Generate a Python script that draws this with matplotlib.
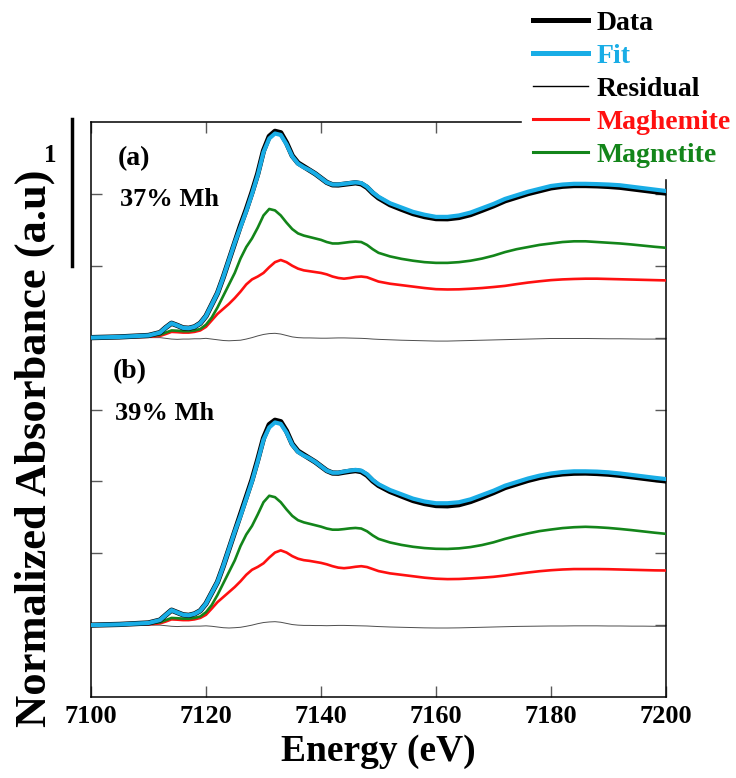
import numpy as np
import matplotlib
matplotlib.use("Agg")
from matplotlib import pyplot as plt
from matplotlib.lines import Line2D

plt.rcParams['font.family'] = ['Liberation Serif', 'DejaVu Serif']
plt.rcParams['font.weight'] = 'bold'

# energy grid (eV)
energy = [7100, 7105, 7110, 7112, 7113, 7114, 7115, 7116, 7117, 7118, 7119, 7120,
          7121, 7122, 7123, 7124, 7125, 7126, 7127, 7128, 7129, 7130, 7131, 7132,
          7133, 7134, 7135, 7136, 7137, 7138, 7139, 7140, 7141, 7142, 7143, 7144,
          7145, 7146, 7147, 7148, 7149, 7150, 7152, 7154, 7156, 7158, 7160, 7162,
          7164, 7166, 7168, 7170, 7172, 7174, 7176, 7178, 7180, 7182, 7184, 7186,
          7188, 7190, 7192, 7194, 7196, 7198, 7200]

# panel (a) - 37% Mh
data_a = [0.0, 0.005, 0.015, 0.035, 0.07, 0.10, 0.085, 0.068, 0.065, 0.075, 0.10, 0.15,
          0.23, 0.31, 0.42, 0.54, 0.66, 0.78, 0.89, 1.01, 1.14, 1.30, 1.40, 1.435,
          1.425, 1.355, 1.265, 1.215, 1.19, 1.165, 1.14, 1.11, 1.08, 1.063, 1.062, 1.067,
          1.072, 1.077, 1.07, 1.045, 1.005, 0.972, 0.925, 0.893, 0.863, 0.842, 0.828, 0.827,
          0.836, 0.856, 0.886, 0.917, 0.952, 0.977, 1.002, 1.022, 1.042, 1.053, 1.058, 1.058,
          1.056, 1.052, 1.046, 1.036, 1.026, 1.016, 1.006]
fit_a = [0.0, 0.005, 0.015, 0.035, 0.07, 0.10, 0.085, 0.068, 0.065, 0.075, 0.10, 0.15,
         0.23, 0.31, 0.42, 0.54, 0.66, 0.77, 0.88, 1.00, 1.13, 1.29, 1.385, 1.42,
         1.41, 1.345, 1.26, 1.21, 1.185, 1.165, 1.14, 1.11, 1.08, 1.065, 1.065, 1.07,
         1.075, 1.08, 1.075, 1.05, 1.01, 0.98, 0.935, 0.905, 0.875, 0.855, 0.84, 0.84,
         0.85, 0.87, 0.90, 0.93, 0.965, 0.99, 1.015, 1.035, 1.055, 1.065, 1.07, 1.07,
         1.068, 1.065, 1.06, 1.05, 1.04, 1.03, 1.02]
maghemite_a = [0.0, 0.002, 0.006, 0.012, 0.025, 0.04, 0.038, 0.035, 0.035, 0.04, 0.05, 0.075,
               0.12, 0.165, 0.20, 0.235, 0.275, 0.32, 0.37, 0.405, 0.425, 0.45, 0.49, 0.525,
               0.54, 0.525, 0.50, 0.48, 0.468, 0.462, 0.456, 0.45, 0.44, 0.425, 0.415, 0.41,
               0.415, 0.422, 0.425, 0.42, 0.405, 0.39, 0.375, 0.365, 0.355, 0.345, 0.337, 0.335,
               0.336, 0.34, 0.345, 0.352, 0.36, 0.372, 0.383, 0.392, 0.40, 0.405, 0.408, 0.41,
               0.41, 0.408, 0.406, 0.404, 0.402, 0.40, 0.398]
magnetite_a = [0.0, 0.003, 0.01, 0.02, 0.035, 0.05, 0.048, 0.045, 0.045, 0.05, 0.06, 0.09,
               0.14, 0.21, 0.29, 0.37, 0.45, 0.55, 0.63, 0.69, 0.765, 0.85, 0.895, 0.885,
               0.85, 0.80, 0.755, 0.725, 0.71, 0.70, 0.69, 0.68, 0.665, 0.655, 0.655, 0.66,
               0.665, 0.668, 0.665, 0.645, 0.615, 0.59, 0.565, 0.548, 0.535, 0.525, 0.52, 0.52,
               0.525, 0.535, 0.55, 0.57, 0.595, 0.615, 0.63, 0.645, 0.655, 0.665, 0.67, 0.67,
               0.665, 0.66, 0.655, 0.648, 0.64, 0.632, 0.625]
residual_a = [0.0, 0.0, 0.0, 0.0, -0.005, -0.01, -0.012, -0.01, -0.01, -0.008, -0.008, -0.005,
              -0.01, -0.015, -0.02, -0.022, -0.02, -0.018, -0.01, 0.0, 0.012, 0.022, 0.028, 0.03,
              0.025, 0.015, 0.005, 0.0, -0.002, -0.002, -0.003, -0.004, -0.004, -0.003, -0.002, -0.002,
              -0.003, -0.004, -0.005, -0.007, -0.01, -0.012, -0.015, -0.018, -0.02, -0.022, -0.024, -0.024,
              -0.022, -0.02, -0.018, -0.016, -0.014, -0.012, -0.01, -0.008, -0.006, -0.006, -0.006, -0.006,
              -0.007, -0.008, -0.008, -0.009, -0.01, -0.01, -0.01]

# panel (b) - 39% Mh
data_b = [0.0, 0.005, 0.015, 0.035, 0.07, 0.104, 0.088, 0.072, 0.068, 0.078, 0.10, 0.15,
          0.225, 0.30, 0.41, 0.53, 0.65, 0.77, 0.89, 1.01, 1.15, 1.30, 1.395, 1.425,
          1.415, 1.35, 1.26, 1.21, 1.185, 1.16, 1.135, 1.105, 1.075, 1.058, 1.057, 1.064,
          1.07, 1.075, 1.068, 1.043, 1.003, 0.972, 0.93, 0.898, 0.867, 0.846, 0.832, 0.83,
          0.838, 0.86, 0.89, 0.922, 0.957, 0.982, 1.007, 1.027, 1.042, 1.052, 1.057, 1.058,
          1.055, 1.05, 1.042, 1.032, 1.022, 1.012, 1.003]
fit_b = [0.0, 0.005, 0.015, 0.035, 0.07, 0.104, 0.088, 0.072, 0.068, 0.078, 0.10, 0.15,
         0.225, 0.30, 0.41, 0.53, 0.65, 0.76, 0.88, 1.00, 1.14, 1.29, 1.375, 1.41,
         1.40, 1.34, 1.255, 1.205, 1.18, 1.16, 1.135, 1.105, 1.075, 1.06, 1.06, 1.068,
         1.075, 1.08, 1.075, 1.05, 1.01, 0.98, 0.94, 0.91, 0.88, 0.86, 0.848, 0.848,
         0.855, 0.875, 0.905, 0.935, 0.97, 0.995, 1.02, 1.04, 1.055, 1.065, 1.07, 1.07,
         1.068, 1.063, 1.055, 1.045, 1.035, 1.025, 1.016]
maghemite_b = [0.0, 0.002, 0.006, 0.012, 0.025, 0.04, 0.038, 0.035, 0.035, 0.04, 0.05, 0.072,
               0.115, 0.16, 0.195, 0.23, 0.265, 0.305, 0.35, 0.385, 0.405, 0.43, 0.47, 0.505,
               0.52, 0.505, 0.48, 0.462, 0.452, 0.447, 0.44, 0.433, 0.423, 0.41, 0.4, 0.396,
               0.4, 0.406, 0.41, 0.404, 0.39, 0.376, 0.36, 0.35, 0.34, 0.33, 0.323, 0.32,
               0.321, 0.325, 0.33, 0.336, 0.345, 0.356, 0.366, 0.375, 0.382, 0.387, 0.39, 0.39,
               0.39, 0.389, 0.387, 0.385, 0.383, 0.381, 0.38]
magnetite_b = [0.0, 0.003, 0.01, 0.02, 0.035, 0.05, 0.048, 0.045, 0.045, 0.05, 0.06, 0.09,
               0.14, 0.21, 0.29, 0.37, 0.45, 0.55, 0.63, 0.69, 0.77, 0.855, 0.9, 0.89,
               0.855, 0.805, 0.76, 0.73, 0.715, 0.705, 0.695, 0.685, 0.672, 0.664, 0.664, 0.668,
               0.673, 0.676, 0.672, 0.653, 0.624, 0.6, 0.575, 0.558, 0.545, 0.536, 0.531, 0.53,
               0.534, 0.543, 0.557, 0.576, 0.6, 0.62, 0.638, 0.654, 0.665, 0.675, 0.681, 0.684,
               0.681, 0.676, 0.669, 0.661, 0.652, 0.643, 0.635]
residual_b = [0.0, 0.0, 0.0, 0.0, -0.004, -0.008, -0.01, -0.008, -0.008, -0.007, -0.007, -0.005,
              -0.008, -0.013, -0.018, -0.02, -0.018, -0.015, -0.008, 0.0, 0.01, 0.018, 0.022, 0.024,
              0.02, 0.012, 0.004, 0.0, -0.002, -0.002, -0.003, -0.003, -0.004, -0.003, -0.002, -0.002,
              -0.003, -0.004, -0.005, -0.006, -0.008, -0.01, -0.013, -0.015, -0.017, -0.019, -0.02, -0.02,
              -0.019, -0.017, -0.015, -0.013, -0.011, -0.009, -0.008, -0.007, -0.006, -0.006, -0.005, -0.005,
              -0.005, -0.006, -0.006, -0.007, -0.007, -0.008, -0.008]

panels = [("(a)", "37% Mh", 2.0, data_a, fit_a, residual_a, maghemite_a, magnetite_a),
          ("(b)", "39% Mh", 0.0, data_b, fit_b, residual_b, maghemite_b, magnetite_b)]

BLUE = '#19ade6'
RED = '#ff1010'
GREEN = '#13851a'
SERIF = ['Liberation Serif', 'DejaVu Serif']

fig = plt.figure(figsize=(7.36, 7.78), dpi=100)
ax = fig.add_axes([91/736, 1 - 697/778, 575/736, 575/778])

E = np.array(energy)
for tag, pct, off, d, f, r, mh, mt in panels:
    ax.plot(E, np.array(r) + off, color='0.3', lw=0.7, zorder=2)
    ax.plot(E, np.array(mh) + off, color=RED, lw=1.9, zorder=3, solid_joinstyle='round')
    ax.plot(E, np.array(mt) + off, color=GREEN, lw=1.9, zorder=3, solid_joinstyle='round')
    ax.plot(E, np.array(d) + off, color='black', lw=3.8, zorder=4, solid_joinstyle='round')
    ax.plot(E, np.array(f) + off, color=BLUE, lw=3.0, zorder=5, solid_joinstyle='round')

ax.text(7104.7, 3.245, "(a)", fontsize=20, fontweight='bold', va='center')
ax.text(7105.0, 2.96, "37% Mh", fontsize=19, fontweight='bold', va='center')
ax.text(7103.8, 1.766, "(b)", fontsize=20, fontweight='bold', va='center')
ax.text(7104.2, 1.475, "39% Mh", fontsize=19, fontweight='bold', va='center')

ax.set_xlim(7100, 7200)
ax.set_ylim(-0.5, 3.5)
ax.set_xticks(np.arange(7100, 7201, 20))
ax.set_yticks(np.arange(0, 3.01, 0.5))
ax.set_yticklabels([])
ax.tick_params(direction='in', top=True, right=True, length=8, width=1.0,
               color='0.35', labelsize=19, pad=6)
for lab in ax.get_xticklabels():
    lab.set_fontweight('bold')
    lab.set_fontfamily(SERIF)
for sp in ax.spines.values():
    sp.set_linewidth(1.1)

ax.set_xlabel("Energy (eV)", fontsize=27, fontweight='bold', labelpad=4)
ax.set_ylabel("Normalized Absorbance (a.u)", fontsize=32, fontweight='bold')
ax.yaxis.set_label_coords(-0.062, 0.433)

# scale bar
trans = ax.get_yaxis_transform()
ax.plot([-0.033, -0.033], [2.5, 3.52], color='black', lw=2.5, transform=trans, clip_on=False)
ax.text(-0.071, 3.27, "1", transform=trans, fontsize=18, fontweight='bold',
        ha='center', va='center')

handles = [Line2D([], [], color='black', lw=3.6),
           Line2D([], [], color=BLUE, lw=3.6),
           Line2D([], [], color='black', lw=1.0),
           Line2D([], [], color=RED, lw=2.2),
           Line2D([], [], color=GREEN, lw=2.2)]
labels = ["Data", "Fit", "Residual", "Maghemite", "Magnetite"]
leg = ax.legend(handles, labels, loc='upper left', bbox_to_anchor=(522/736, 1.0),
                bbox_transform=fig.transFigure, fontsize=20, frameon=True,
                facecolor='white', edgecolor='white', framealpha=1, fancybox=False,
                handlelength=2.0, handletextpad=0.3, labelspacing=0.27,
                borderpad=0.38, borderaxespad=0)
leg.set_zorder(10)
for txt, c in zip(leg.get_texts(), ['black', BLUE, 'black', RED, GREEN]):
    txt.set_color(c)
    txt.set_fontweight('bold')
    txt.set_fontfamily(SERIF)

fig.savefig("out.png", dpi=100)
